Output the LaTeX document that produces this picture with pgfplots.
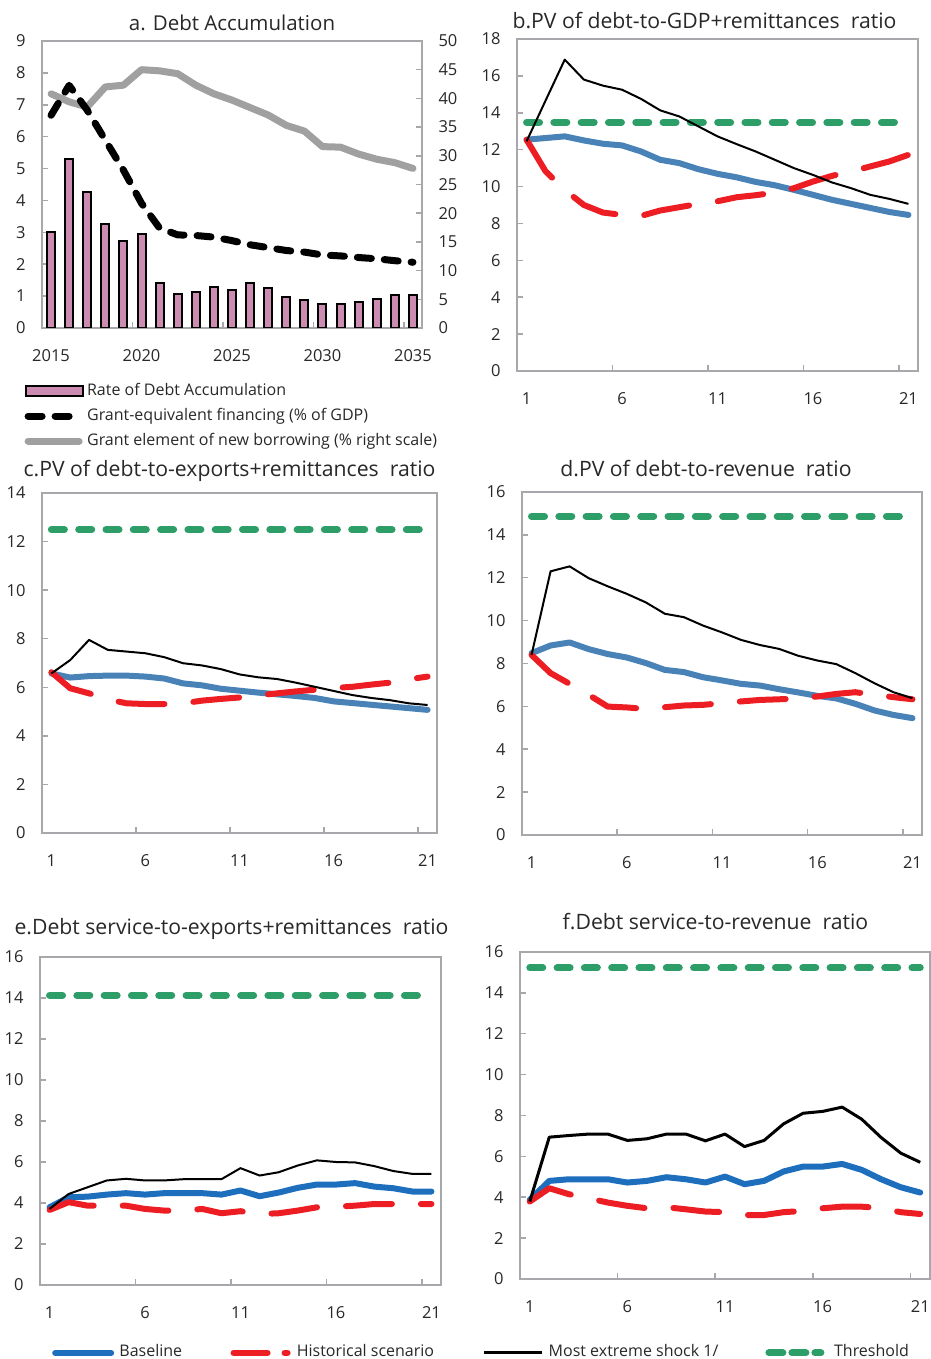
\documentclass[border=0pt]{standalone}
\usepackage{fontspec}
\setmainfont{Open Sans}
\usepackage{pgfplots}
\pgfplotsset{compat=1.18}
\definecolor{framegray}{RGB}{168,168,172}
\definecolor{baseblue}{RGB}{72,130,182}
\definecolor{baseblueF}{RGB}{30,110,190}
\definecolor{histred}{RGB}{236,30,36}
\definecolor{thrgreen}{RGB}{46,158,104}
\definecolor{grantgray}{RGB}{160,160,160}
\definecolor{barfill}{RGB}{204,140,178}
\definecolor{txt}{RGB}{40,40,40}
\pgfplotsset{
  common/.style={scale only axis, anchor=south west, ymin=0,
    tick align=inside, tick pos=left, major tick length=6pt, minor tick length=6pt,
    axis line style={framegray, line width=2.5pt},
    every major x tick/.append style={draw=none},
    every minor x tick/.append style={framegray, line width=1.5pt},
    every major y tick/.append style={framegray, line width=1.5pt},
    ticklabel style={font=\fontsize{16.5}{20}\selectfont, text=txt},
    yticklabel style={xshift=-13pt},
    xticklabel style={yshift=-18pt},
    /pgf/number format/assume math mode=true,
    /pgf/number format/1000 sep={},
    title style={font=\fontsize{21.2}{24}\selectfont, text=txt, at={(0.5,1)}, anchor=base, yshift=4pt},
  },
  panel/.style={common, xmin=0.5, xmax=21.5, xtick={1,6,11,16,21}, minor xtick={5.5,10.5,15.5,20.5}},
  base/.style={baseblue, line width=6pt, line join=round, line cap=round},
  hist/.style={histred, line width=6pt, line join=round, line cap=round, dash pattern=on 46pt off 29pt},
  shock/.style={black, line width=2pt, line join=round},
  thr/.style={thrgreen, line width=7pt, line cap=round, dash pattern=on 13pt off 14.3pt},
  leg/.style={legend style={draw=none, fill=none, inner sep=0pt, outer sep=0pt, column sep=0pt, row sep=9pt,
     font=\fontsize{16}{18}\selectfont, text=txt,
     nodes={inner sep=0pt, outer sep=0pt, text height=12pt, text depth=4pt}}, legend cell align=left},
  alegline/.style={legend image code/.code={\draw[##1] (3.5pt,0pt) -- (54.5pt,0pt); \path (0pt,0pt) (59pt,0pt);}},
  alegbar/.style={legend image code/.code={\draw[black, line width=2pt, fill=barfill] (1pt,-5pt) rectangle (58pt,5pt); \path (0pt,0pt) (59pt,0pt);}},
  legbase/.style={legend image code/.code={\draw[baseblueF, line width=6pt, line cap=round] (3pt,0pt) -- (59pt,0pt); \path (0pt,0pt) (67pt,0pt);}},
  leghist/.style={legend image code/.code={\draw[histred, line width=6pt, line cap=round, dash pattern=on 34pt off 17pt] (3pt,0pt) -- (57pt,0pt); \path (0pt,0pt) (66pt,0pt);}},
  legshock/.style={legend image code/.code={\draw[black, line width=3pt] (0pt,0pt) -- (58pt,0pt); \path (65pt,0pt);}},
  legthr/.style={legend image code/.code={\draw[thrgreen, line width=7pt, line cap=round, dash pattern=on 14pt off 9pt] (4pt,0pt) -- (56pt,0pt); \path (0pt,0pt) (69pt,0pt);}},
}
\begin{document}
\begin{tikzpicture}
\path[use as bounding box] (0pt,0pt) rectangle (930pt,1359pt);

% ---------------- panel a: right axis (grant element)
\begin{axis}[common, at={(42pt,1031pt)}, width=380pt, height=287pt,
  xmin=2014.5, xmax=2035.5, ymax=50, axis y line*=right, axis x line=none,
  ytick pos=right, yticklabel pos=right,
  ytick={0,5,...,50}, yticklabel style={xshift=26pt}]
\addplot[grantgray, line width=7pt, line join=round, line cap=round] coordinates {
(2015,40.8)(2016,39.4)(2017,38.5)(2018,42.0)(2019,42.3)(2020,45.0)(2021,44.8)(2022,44.3)(2023,42.3)(2024,40.8)(2025,39.7)(2026,38.4)(2027,37.1)(2028,35.3)(2029,34.3)(2030,31.6)(2031,31.5)(2032,30.3)(2033,29.4)(2034,28.8)(2035,27.8)};
\end{axis}

% ---------------- panel a: left axis
\begin{axis}[common, leg, alegline, at={(42pt,1031pt)}, width=380pt, height=287pt,
  xmin=2014.5, xmax=2035.5, ymax=9, ytick={0,1,...,9},
  xtick={2015,2020,2025,2030,2035}, minor xtick={2019.5,2024.5,2029.5,2034.5},
  title={a. Debt Accumulation}, title style={font=\fontsize{20.5}{24}\selectfont},
  legend style={at={(axis description cs:-0.055,-0.192)}, anchor=north west}]
\addplot[ybar, bar width=8pt, draw=black, line width=2pt, fill=barfill, alegbar]
  coordinates {
(2015,3.0)(2016,5.29)(2017,4.28)(2018,3.27)(2019,2.74)(2020,2.95)(2021,1.40)(2022,1.07)(2023,1.14)(2024,1.29)(2025,1.19)(2026,1.40)(2027,1.24)(2028,0.98)(2029,0.87)(2030,0.76)(2031,0.76)(2032,0.81)(2033,0.92)(2034,1.03)(2035,1.03)};
\addlegendentry{Rate of Debt Accumulation}
\addplot[black, line width=7pt, line cap=round, line join=round, dash pattern=on 14pt off 13pt] coordinates {
(2015,6.67)(2016,7.61)(2017,6.83)(2018,5.89)(2019,4.95)(2020,3.91)(2021,3.13)(2022,2.92)(2023,2.90)(2024,2.85)(2025,2.74)(2026,2.61)(2027,2.52)(2028,2.43)(2029,2.38)(2030,2.29)(2031,2.26)(2032,2.21)(2033,2.17)(2034,2.11)(2035,2.06)};
\addlegendentry{Grant-equivalent financing (\% of GDP)}
\addlegendimage{grantgray, line width=7pt, line cap=round}
\addlegendentry{Grant element of new borrowing (\% right scale)}
\end{axis}

% ---------------- panel b
\begin{axis}[panel, at={(517pt,988pt)}, width=401pt, height=332pt, ymax=18, ytick={0,2,...,18},
  title={b.PV of debt-to-GDP+remittances~~ratio}, title style={xshift=-13pt}]
\addplot[base] coordinates {(1,12.54)(2,12.63)(3,12.72)(4,12.5)(5,12.32)(6,12.23)(7,11.9)(8,11.45)(9,11.27)(10,10.94)(11,10.69)(12,10.5)(13,10.25)(14,10.07)(15,9.82)(16,9.55)(17,9.28)(18,9.06)(19,8.84)(20,8.62)(21,8.46)};
\addplot[hist] coordinates {(1,12.54)(2,10.82)(3,9.82)(4,9.0)(5,8.59)(6,8.46)(7,8.41)(8,8.7)(9,8.88)(10,9.06)(11,9.2)(12,9.42)(13,9.53)(14,9.67)(15,9.91)(16,10.27)(17,10.58)(18,10.82)(19,11.09)(20,11.36)(21,11.72)};
\addplot[thr] coordinates {(1,13.48)(21,13.48)};
\addplot[shock] coordinates {(1,12.45)(2,14.67)(3,16.88)(4,15.8)(5,15.47)(6,15.25)(7,14.75)(8,14.13)(9,13.8)(10,13.26)(11,12.72)(12,12.3)(13,11.9)(14,11.45)(15,11.0)(16,10.63)(17,10.22)(18,9.91)(19,9.55)(20,9.33)(21,9.06)};
\end{axis}

% ---------------- panel c
\begin{axis}[panel, at={(42pt,526pt)}, width=395pt, height=340pt, ymax=14, ytick={0,2,...,14},
  title={c.PV of debt-to-exports+remittances~~ratio}, title style={xshift=-10pt, yshift=6pt}]
\addplot[base] coordinates {(1,6.57)(2,6.4)(3,6.46)(4,6.48)(5,6.48)(6,6.44)(7,6.36)(8,6.16)(9,6.08)(10,5.94)(11,5.86)(12,5.78)(13,5.71)(14,5.64)(15,5.56)(16,5.42)(17,5.35)(18,5.28)(19,5.21)(20,5.14)(21,5.07)};
\addplot[hist] coordinates {(1,6.62)(2,5.96)(3,5.75)(4,5.5)(5,5.34)(6,5.31)(7,5.31)(8,5.34)(9,5.45)(10,5.52)(11,5.58)(12,5.67)(13,5.75)(14,5.83)(15,5.9)(16,5.97)(17,6.02)(18,6.11)(19,6.19)(20,6.33)(21,6.44)};
\addplot[thr] coordinates {(1,12.49)(21,12.49)};
\addplot[shock] coordinates {(1,6.57)(2,7.12)(3,7.95)(4,7.54)(5,7.47)(6,7.4)(7,7.24)(8,6.99)(9,6.9)(10,6.75)(11,6.53)(12,6.41)(13,6.34)(14,6.19)(15,6.02)(16,5.85)(17,5.68)(18,5.56)(19,5.47)(20,5.34)(21,5.27)};
\end{axis}

% ---------------- panel d
\begin{axis}[panel, at={(522pt,524pt)}, width=400pt, height=343pt, ymax=16, ytick={0,2,...,16},
  title={d.PV of debt-to-revenue~~ratio}, title style={xshift=-16pt, yshift=5pt}]
\addplot[base] coordinates {(1,8.48)(2,8.84)(3,8.98)(4,8.67)(5,8.44)(6,8.28)(7,8.02)(8,7.7)(9,7.6)(10,7.36)(11,7.21)(12,7.05)(13,6.97)(14,6.8)(15,6.65)(16,6.49)(17,6.37)(18,6.12)(19,5.81)(20,5.6)(21,5.45)};
\addplot[hist] coordinates {(1,8.4)(2,7.55)(3,7.05)(4,6.54)(5,5.99)(6,5.95)(7,5.88)(8,5.96)(9,6.04)(10,6.07)(11,6.15)(12,6.23)(13,6.3)(14,6.33)(15,6.37)(16,6.46)(17,6.58)(18,6.66)(19,6.54)(20,6.43)(21,6.33)};
\addplot[thr] coordinates {(1,14.86)(21,14.86)};
\addplot[shock] coordinates {(1,8.4)(2,12.3)(3,12.53)(4,11.98)(5,11.6)(6,11.25)(7,10.85)(8,10.32)(9,10.16)(10,9.77)(11,9.45)(12,9.1)(13,8.86)(14,8.68)(15,8.36)(16,8.14)(17,7.97)(18,7.55)(19,7.08)(20,6.66)(21,6.38)};
\end{axis}

% ---------------- panel e
\begin{axis}[panel, leg, at={(40pt,74pt)}, width=401pt, height=328pt, ymax=16, ytick={0,2,...,16},
  title={e.Debt service-to-exports+remittances~~ratio}, title style={xshift=-9pt, yshift=12pt},
  legend columns=2,
  legend style={at={(axis description cs:0.0299,-0.207)}, anchor=west}]
\addplot[base, baseblueF, forget plot] coordinates {(1,3.79)(2,4.28)(3,4.31)(4,4.41)(5,4.48)(6,4.41)(7,4.48)(8,4.48)(9,4.48)(10,4.41)(11,4.61)(12,4.33)(13,4.51)(14,4.74)(15,4.9)(16,4.9)(17,4.97)(18,4.8)(19,4.72)(20,4.56)(21,4.56)};
\addplot[hist, forget plot] coordinates {(1,3.66)(2,4.04)(3,3.87)(4,3.87)(5,3.87)(6,3.71)(7,3.63)(8,3.63)(9,3.71)(10,3.5)(11,3.6)(12,3.46)(13,3.5)(14,3.63)(15,3.79)(16,3.82)(17,3.87)(18,3.95)(19,3.95)(20,3.95)(21,3.95)};
\addplot[thr, forget plot] coordinates {(1,14.13)(21,14.13)};
\addplot[shock, forget plot] coordinates {(1,3.71)(2,4.44)(3,4.77)(4,5.1)(5,5.18)(6,5.1)(7,5.1)(8,5.16)(9,5.16)(10,5.16)(11,5.7)(12,5.34)(13,5.5)(14,5.83)(15,6.08)(16,6.0)(17,5.98)(18,5.8)(19,5.56)(20,5.42)(21,5.42)};
\addlegendimage{legbase}
\addlegendentry{\makebox[111pt][l]{Baseline}}
\addlegendimage{leghist}
\addlegendentry{Historical scenario}
\end{axis}

% ---------------- panel f
\begin{axis}[panel, leg, at={(520pt,80pt)}, width=410pt, height=327pt, ymax=16, ytick={0,2,...,16},
  title={f.Debt service-to-revenue~~ratio}, title style={xshift=-9.5pt, yshift=12pt},
  legend columns=2,
  legend style={at={(axis description cs:-0.0927,-0.226)}, anchor=west}]
\addplot[base, baseblueF, forget plot] coordinates {(1,3.87)(2,4.8)(3,4.88)(4,4.88)(5,4.88)(6,4.72)(7,4.8)(8,4.98)(9,4.88)(10,4.72)(11,5.01)(12,4.64)(13,4.8)(14,5.26)(15,5.5)(16,5.5)(17,5.63)(18,5.34)(19,4.88)(20,4.49)(21,4.23)};
\addplot[hist, forget plot] coordinates {(1,3.79)(2,4.44)(3,4.15)(4,3.95)(5,3.74)(6,3.58)(7,3.46)(8,3.51)(9,3.41)(10,3.3)(11,3.27)(12,3.13)(13,3.13)(14,3.27)(15,3.33)(16,3.46)(17,3.54)(18,3.54)(19,3.46)(20,3.27)(21,3.18)};
\addplot[thr, forget plot] coordinates {(1,15.22)(21,15.22)};
\addplot[shock, line width=3pt, forget plot] coordinates {(1,3.79)(2,6.94)(3,7.02)(4,7.09)(5,7.09)(6,6.78)(7,6.86)(8,7.09)(9,7.09)(10,6.76)(11,7.09)(12,6.48)(13,6.78)(14,7.59)(15,8.11)(16,8.2)(17,8.41)(18,7.82)(19,6.92)(20,6.16)(21,5.71)};
\addlegendimage{legshock}
\addlegendentry{\makebox[216pt][l]{Most extreme shock 1/}}
\addlegendimage{legthr}
\addlegendentry{Threshold}
\end{axis}
\end{tikzpicture}
\end{document}
